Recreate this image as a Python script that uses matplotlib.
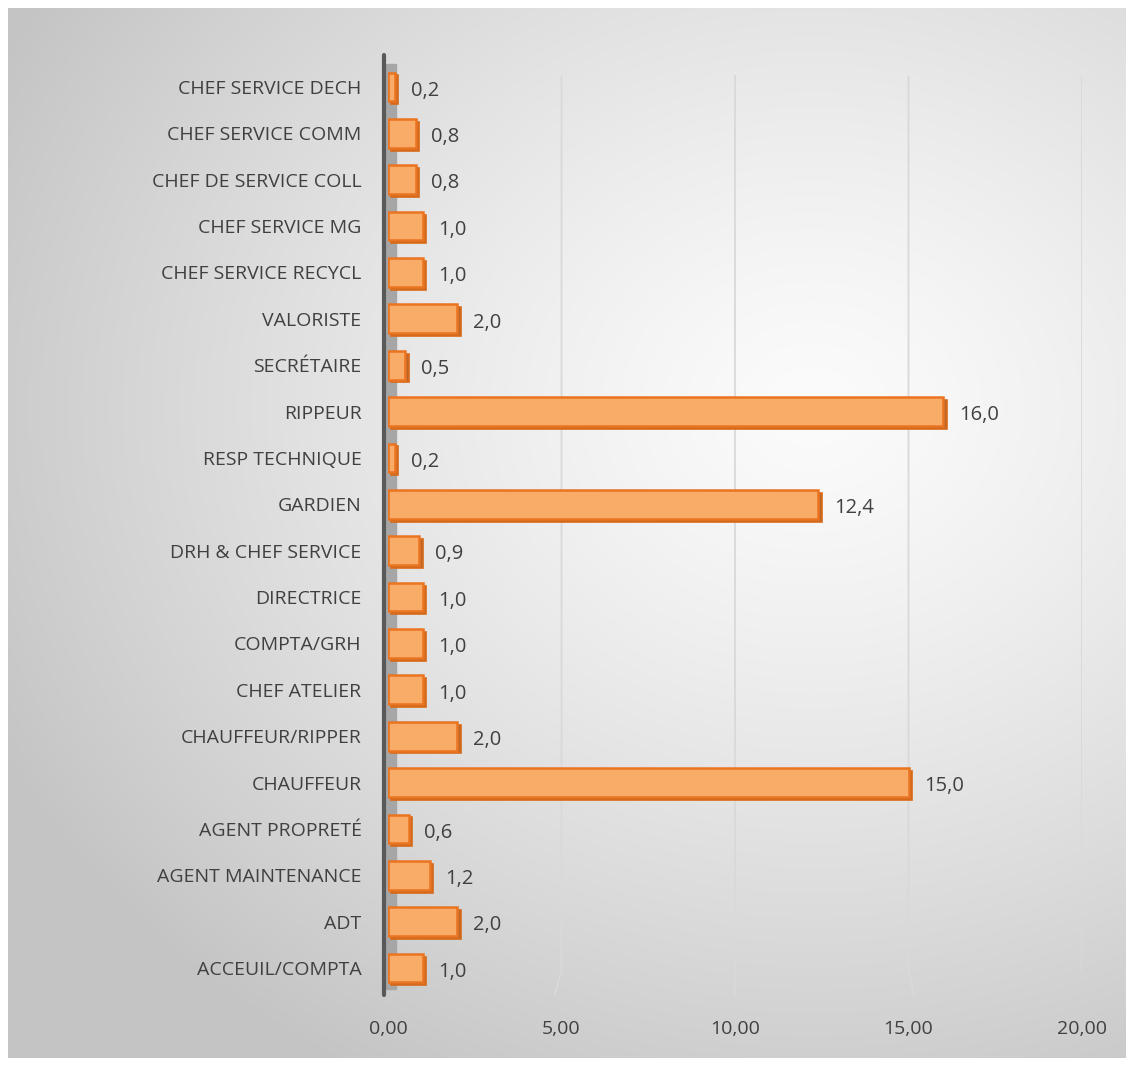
import numpy as np
import matplotlib.pyplot as plt
from matplotlib.patches import Rectangle

plt.rcParams['font.family'] = ['Open Sans', 'DejaVu Sans']

# data (bottom to top, as drawn)
categories = ['ACCEUIL/COMPTA', 'ADT', 'AGENT MAINTENANCE', 'AGENT PROPRETÉ',
              'CHAUFFEUR', 'CHAUFFEUR/RIPPER', 'CHEF ATELIER', 'COMPTA/GRH',
              'DIRECTRICE', 'DRH & CHEF SERVICE', 'GARDIEN', 'RESP TECHNIQUE',
              'RIPPEUR', 'SECRÉTAIRE', 'VALORISTE', 'CHEF SERVICE RECYCL',
              'CHEF SERVICE MG', 'CHEF DE SERVICE COLL', 'CHEF SERVICE COMM',
              'CHEF SERVICE DECH']
values = [1.0, 2.0, 1.2, 0.6, 15.0, 2.0, 1.0, 1.0, 1.0, 0.9,
          12.4, 0.2, 16.0, 0.5, 2.0, 1.0, 1.0, 0.8, 0.8, 0.2]
xticks = [0, 5, 10, 15, 20]

W, H = 1134, 1066
fig = plt.figure(figsize=(W / 100, H / 100), dpi=100)

# background panel with radial gradient
bg = fig.add_axes([0, 0, 1, 1])
bg.set_axis_off()
yy, xx = np.mgrid[0:1:400j, 0:1:400j]
d = np.sqrt(((xx - 0.72) / 1.0) ** 2 + ((yy - 0.62) / 0.9) ** 2)
g = np.clip(0.985 - 0.28 * d ** 1.3, 0.77, 1.0)
img = np.dstack([g, g, g])
bg.imshow(img, extent=[8 / W, 1 - 8 / W, 8 / H, 1 - 8 / H], origin='lower',
          aspect='auto', zorder=0)
bg.set_xlim(0, 1)
bg.set_ylim(0, 1)

ax = fig.add_axes([388 / W, 71 / H, (1082 - 388) / W, (1011 - 71) / H])
ax.patch.set_alpha(0)
ax.set_xlim(0, 20)
ax.set_ylim(-0.58, 19.69)
for s in ax.spines.values():
    s.set_visible(False)

# gridlines with a small perspective kink near the floor
slant = {5: -0.2, 10: 0.0, 15: 0.15, 20: 0.3}
for t in xticks[1:]:
    ax.plot([t, t, t + slant[t]], [19.25, -0.05, -0.58], color='#D9D9D9',
            lw=1.3, zorder=1, solid_capstyle='butt')

# wall / axis line
ax.add_patch(Rectangle((-0.06, -0.45), 0.28, 19.95, color='#A6A6A6', zorder=2,
                       clip_on=False))
ax.plot([-0.12, -0.12], [-0.58, 19.69], color='#595959', lw=3, zorder=3,
        clip_on=False, solid_capstyle='round')

y = np.arange(len(categories))
h = 0.62
dx, dy = 0.1, 0.06
for yi, v in zip(y, values):
    # depth face
    ax.add_patch(Rectangle((dx, yi - h / 2 - dy), v, h, facecolor='#B8662A',
                           edgecolor='#D86A18', lw=1.2, zorder=4))
    ax.barh(yi, v, height=h, color='#F9AB68', edgecolor='#EA7420', lw=1.8,
            zorder=5)
    ax.text(v + 0.45, yi - 0.08, f'{v:.1f}'.replace('.', ','), va='center',
            ha='left', fontsize=14.5, color='#404040', zorder=6)

ax.set_yticks(y)
ax.set_yticklabels(categories, fontsize=14, color='#404040')
ax.tick_params(axis='y', length=0, pad=19)
ax.set_xticks(xticks)
ax.set_xticklabels([f'{t:.2f}'.replace('.', ',') for t in xticks],
                   fontsize=14, color='#404040')
ax.tick_params(axis='x', length=0, pad=18)

fig.savefig('out.png', dpi=100)
